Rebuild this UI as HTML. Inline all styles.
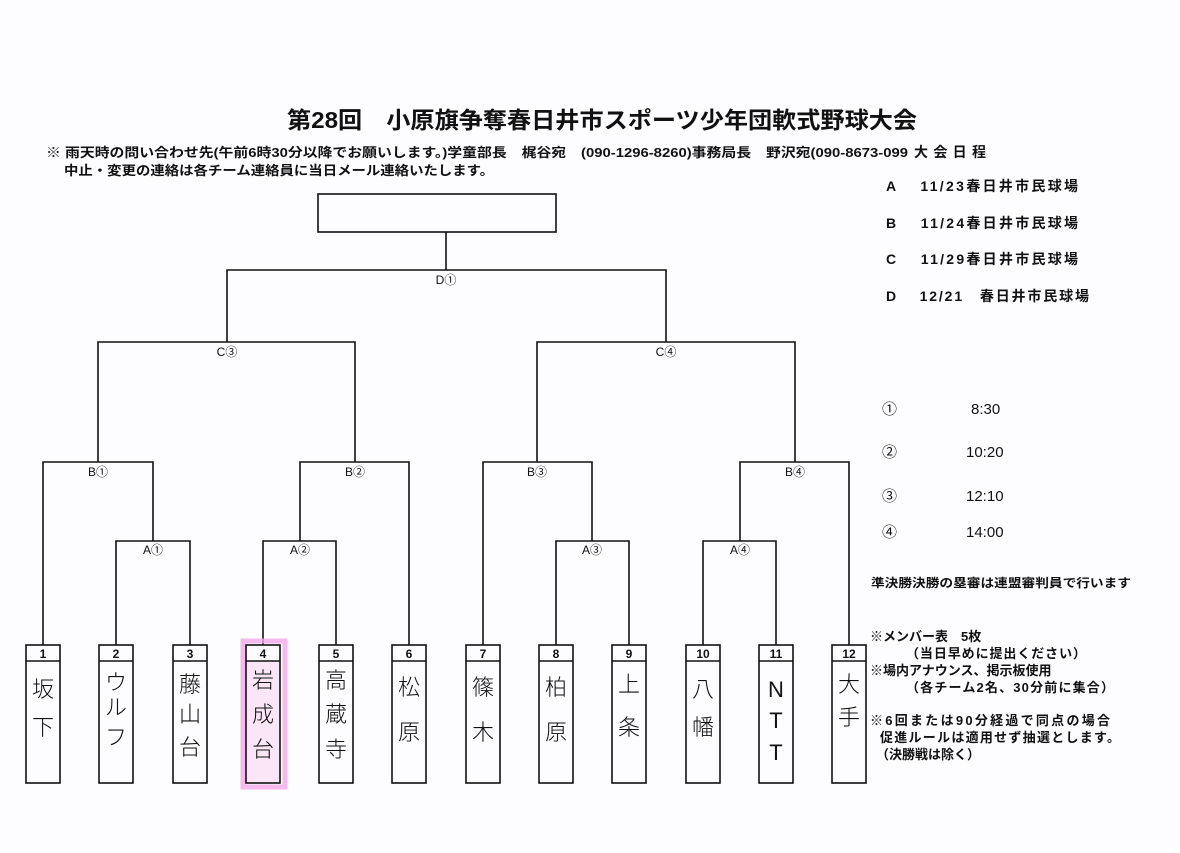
<!DOCTYPE html>
<html><head><meta charset="utf-8"><style>
html,body{margin:0;padding:0;background:#fff;}
svg text{font-family:"Liberation Sans","Noto Sans CJK JP",sans-serif;fill:#111;}
</style></head><body>
<svg width="1180" height="848" viewBox="0 0 1180 848" xmlns="http://www.w3.org/2000/svg">
<rect width="1180" height="848" fill="#fdfcfe"/>
<text x="287" y="128" font-size="23" font-weight="bold" textLength="630" lengthAdjust="spacingAndGlyphs">第28回　小原旗争奪春日井市スポーツ少年団軟式野球大会</text>
<text x="46" y="157" font-size="13" font-weight="bold" textLength="862" lengthAdjust="spacingAndGlyphs">※ 雨天時の問い合わせ先(午前6時30分以降でお願いします。)学童部長　梶谷宛　(090-1296-8260)事務局長　野沢宛(090-8673-099</text>
<text x="914" y="157" font-size="14" font-weight="bold" textLength="72">大会日程</text>
<text x="64" y="175" font-size="13" font-weight="bold" textLength="430" lengthAdjust="spacingAndGlyphs">中止・変更の連絡は各チーム連絡員に当日メール連絡いたします。</text>
<g font-size="14" font-weight="bold">
<text x="886" y="191" textLength="192">A　 11/23春日井市民球場</text>
<text x="886" y="228" textLength="192">B　 11/24春日井市民球場</text>
<text x="886" y="264" textLength="192">C　 11/29春日井市民球場</text>
<text x="886" y="301" textLength="203">D　 12/21　春日井市民球場</text>
</g>
<g font-size="15">
<text x="882" y="414">①</text><text x="971" y="414">8:30</text>
<text x="882" y="457">②</text><text x="966" y="457">10:20</text>
<text x="882" y="501">③</text><text x="966" y="501">12:10</text>
<text x="882" y="537">④</text><text x="966" y="537">14:00</text>
</g>
<text x="871" y="587" font-size="12" font-weight="bold" textLength="260" lengthAdjust="spacingAndGlyphs">準決勝決勝の塁審は連盟審判員で行います</text>
<g font-size="13" font-weight="bold">
<text x="870" y="641">※メンバー表　5枚</text>
<text x="906" y="658" textLength="180">（当日早めに提出ください）</text>
<text x="870" y="675">※場内アナウンス、掲示板使用</text>
<text x="906" y="692" textLength="208">（各チーム2名、30分前に集合）</text>
<text x="870" y="725" textLength="240">※6回または90分経過で同点の場合</text>
<text x="880" y="742" textLength="240">促進ルールは適用せず抽選とします。</text>
<text x="876" y="759">（決勝戦は除く）</text>
</g>
<g stroke="#111" stroke-width="1.6" fill="none">
<rect x="318" y="194" width="238" height="38"/>
<path d="M446 232V270M227 342V270H666V342"/>
<path d="M98 462V342H355V462M537 462V342H795V462"/>
<path d="M43 645V462H153V541M300 541V462H409V645"/>
<path d="M483 645V462H592V541M740 541V462H849V645"/>
<path d="M116 645V541H190V645M263 645V541H336V645"/>
<path d="M556 645V541H629V645M703 645V541H776V645"/>
</g>
<g font-size="12" text-anchor="middle">
<text x="446" y="284">D①</text>
<text x="227" y="356">C③</text><text x="666" y="356">C④</text>
<text x="98" y="476">B①</text><text x="355" y="476">B②</text>
<text x="537" y="476">B③</text><text x="795" y="476">B④</text>
<text x="153" y="554">A①</text><text x="300" y="554">A②</text>
<text x="592" y="554">A③</text><text x="740" y="554">A④</text>
</g>
<rect x="243" y="641" width="42" height="146" fill="none" stroke="#f2a8e8" stroke-width="5" opacity="0.8"/>
<rect x="246" y="661" width="34" height="122" fill="#fbe6f7"/>
<g stroke="#111" stroke-width="1.6" fill="none">
<rect x="26" y="645" width="34" height="138"/><rect x="99" y="645" width="34" height="138"/>
<rect x="173" y="645" width="34" height="138"/><rect x="246" y="645" width="34" height="138"/>
<rect x="319" y="645" width="34" height="138"/><rect x="392" y="645" width="34" height="138"/>
<rect x="466" y="645" width="34" height="138"/><rect x="539" y="645" width="34" height="138"/>
<rect x="612" y="645" width="34" height="138"/><rect x="686" y="645" width="34" height="138"/>
<rect x="759" y="645" width="34" height="138"/><rect x="832" y="645" width="34" height="138"/>
<path d="M26 661H60M99 661H133M173 661H207M246 661H280M319 661H353M392 661H426M466 661H500M539 661H573M612 661H646M686 661H720M759 661H793M832 661H866"/>
</g>
<g font-size="12" font-weight="bold" text-anchor="middle">
<text x="43" y="658">1</text><text x="116" y="658">2</text><text x="190" y="658">3</text><text x="263" y="658">4</text>
<text x="336" y="658">5</text><text x="409" y="658">6</text><text x="483" y="658">7</text><text x="556" y="658">8</text>
<text x="629" y="658">9</text><text x="703" y="658">10</text><text x="776" y="658">11</text><text x="849" y="658">12</text>
</g>
<g font-size="22" text-anchor="middle" font-weight="300">
<text x="43" y="697">坂</text><text x="43" y="735">下</text>
<text x="116" y="690">ウ</text><text x="116" y="715">ル</text><text x="116" y="745">フ</text>
<text x="190" y="692">藤</text><text x="190" y="722">山</text><text x="190" y="755">台</text>
<text x="263" y="688">岩</text><text x="263" y="722">成</text><text x="263" y="757">台</text>
<text x="336" y="688">高</text><text x="336" y="722">蔵</text><text x="336" y="757">寺</text>
<text x="409" y="695">松</text><text x="409" y="740">原</text>
<text x="483" y="695">篠</text><text x="483" y="740">木</text>
<text x="556" y="695">柏</text><text x="556" y="740">原</text>
<text x="629" y="692">上</text><text x="629" y="735">条</text>
<text x="703" y="697">八</text><text x="703" y="735">幡</text>
<text x="776" y="697">N</text><text x="776" y="728">T</text><text x="776" y="760">T</text>
<text x="849" y="692">大</text><text x="849" y="725">手</text>
</g>
</svg>
</body></html>
